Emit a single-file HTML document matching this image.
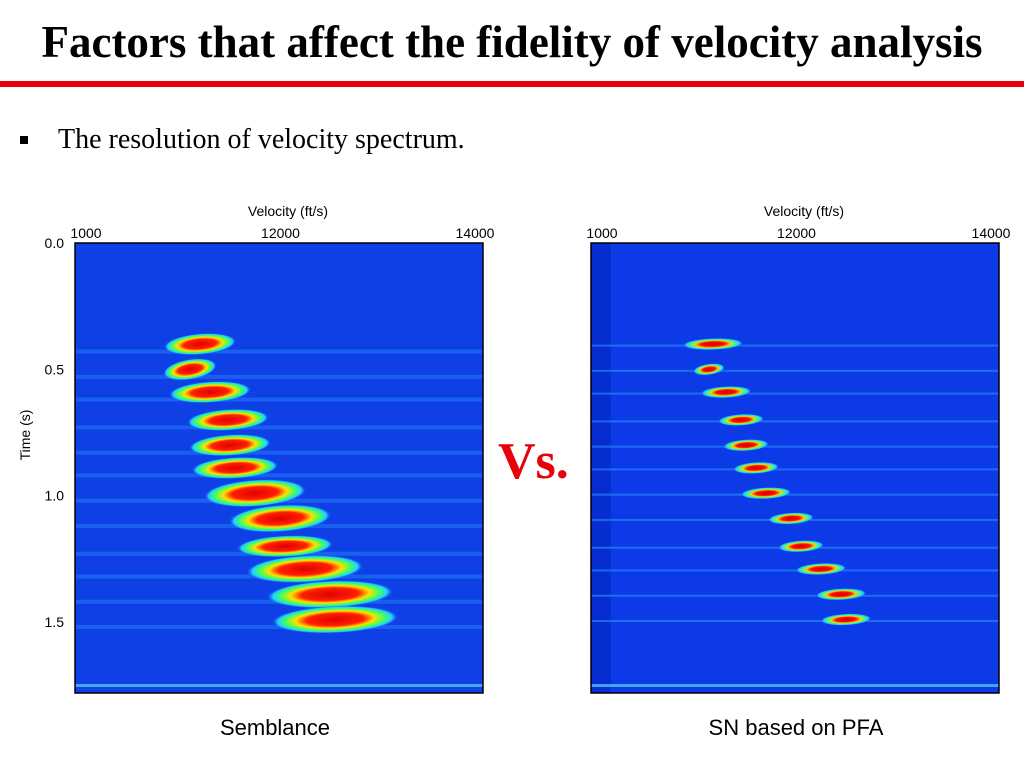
<!DOCTYPE html>
<html><head><meta charset="utf-8"><style>
body{margin:0;width:1024px;height:768px;background:#fff;overflow:hidden;position:relative;font-family:"Liberation Sans",sans-serif}
.t{position:absolute;white-space:nowrap}
</style></head><body>
<div class="t" style="left:0;width:1024px;top:16px;text-align:center;font:bold 45px 'Liberation Serif',serif;color:#000">Factors that affect the fidelity of velocity analysis</div>
<div style="position:absolute;left:0;top:81px;width:1024px;height:6px;background:#e8000b"></div>
<div style="position:absolute;left:20px;top:136px;width:8px;height:8px;background:#000"></div>
<div class="t" style="left:58px;top:124px;font:28px 'Liberation Serif',serif">The resolution of velocity spectrum.</div>
<div class="t" style="left:498px;top:432px;font:bold 52px 'Liberation Serif',serif;color:#e8000b">Vs.</div>
<div class="t" style="left:175px;width:200px;text-align:center;top:715px;font:22px 'Liberation Sans',sans-serif">Semblance</div>
<div class="t" style="left:676px;width:240px;text-align:center;top:715px;font:22px 'Liberation Sans',sans-serif">SN based on PFA</div>
<svg id="chart" width="1024" height="768" style="position:absolute;left:0;top:0"></svg>
<script>
const leftTimes=[0.40,0.50,0.59,0.70,0.80,0.89,0.99,1.09,1.20,1.29,1.39,1.49];
const leftVel=[11172,11069,11275,11460,11481,11532,11738,11995,12046,12252,12509,12560];
const leftWidth=[70,50,80,80,80,85,100,100,95,115,125,125];
const rightTimes=[0.40,0.50,0.59,0.70,0.80,0.89,0.99,1.09,1.20,1.29,1.39,1.49];
const rightVel=[11141,11100,11275,11429,11481,11584,11686,11943,12046,12252,12458,12509];
const rightWidth=[60,30,50,45,45,45,50,45,45,50,50,50];
const xTicks=["1000","12000","14000"];
const xTickVals=[10000,12000,14000];
const yTicks=["0.0","0.5","1.0","1.5"];
const yTickVals=[0,0.5,1.0,1.5];
const NS="http://www.w3.org/2000/svg";
const svg=document.getElementById('chart');
function mk(tag,attrs,parent){const e=document.createElementNS(NS,tag);for(const k in attrs)e.setAttribute(k,attrs[k]);(parent||svg).appendChild(e);return e;}
const defs=mk('defs',{});
const rg=mk('radialGradient',{id:'blob'},defs);
[[0,'#e00000'],[0.45,'#ff2000'],[0.62,'#ffe000'],[0.78,'#40ff60'],[0.9,'#20d0ff'],[1,'#1040e8',0]].forEach(s=>{const st=mk('stop',{offset:s[0],'stop-color':s[1]},rg);if(s.length>2)st.setAttribute('stop-opacity',0);});
const rg2=mk('radialGradient',{id:'blob2'},defs);
[[0,'#d00000'],[0.4,'#ff1000'],[0.58,'#ffd000'],[0.72,'#40ff80'],[0.88,'#30c0ff'],[1,'#1040e8',0]].forEach(s=>{const st=mk('stop',{offset:s[0],'stop-color':s[1]},rg2);if(s.length>2)st.setAttribute('stop-opacity',0);});
function panel(x0,name,times,vels,widths,thin){
  const x1=x0+408,y0=243,y1=693;
  const xs=v=>x0+11+(v-10000)/2000*194.5;
  const ys=t=>y0+t*252.7;
  const g=mk('g',{});
  
  
  const bg=mk('rect',{x:x0,y:y0,width:408,height:450,fill:thin?'#0c3ae6':'#0f40e6'},g);
  
  if(thin){mk('rect',{x:x0,y:y0,width:20,height:450,fill:'#0020b8',opacity:0.5},g);}
  times.forEach((t,i)=>{
    const yy=ys(t)+(thin?2:7);
    const s=mk('rect',{x:x0,y:yy-1.5,width:408,height:thin?2:4,fill:'#2a90ff',opacity:thin?0.6:0.4},g);
    
  });
  mk('rect',{x:x0,y:y0+441,width:408,height:3,fill:'#60d0ff',opacity:0.7},g);
  times.forEach((t,i)=>{
    const cx=xs(vels[i]),cy=ys(t),w=widths[i],h=thin?12:(w>95?28:22);
    const gg=mk('g',{transform:`translate(${cx},${cy}) skewX(-40)`},g);
    const e=mk('ellipse',{cx:0,cy:0,rx:w/2,ry:h/2,fill:thin?'url(#blob2)':'url(#blob)'},gg);
    
    
  });
  mk('rect',{x:x0,y:y0,width:408,height:450,fill:'none',stroke:'#000','stroke-width':1.5},g);
  const lab=mk('text',{x:x0+213,y:216,'font-size':14,'text-anchor':'middle','font-family':'Liberation Sans, sans-serif'},g);
  lab.textContent='Velocity (ft/s)';
  
  xTicks.forEach((l,i)=>{const tx=mk('text',{x:xs(xTickVals[i]),y:238,'font-size':14,'text-anchor':'middle','font-family':'Liberation Sans, sans-serif'},g);tx.textContent=l;
    });
  return ys;
}
const ys=panel(75,'semblance-panel',leftTimes,leftVel,leftWidth,false);
panel(591,'sn-pfa-panel',rightTimes,rightVel,rightWidth,true);
yTicks.forEach((l,i)=>{const tx=mk('text',{x:64,y:ys(yTickVals[i])+5,'font-size':14,'text-anchor':'end','font-family':'Liberation Sans, sans-serif'});tx.textContent=l;
  });
const yt=mk('text',{x:0,y:0,transform:'translate(30,435) rotate(-90)','font-size':14,'text-anchor':'middle','font-family':'Liberation Sans, sans-serif'});
yt.textContent='Time (s)';

</script>
</body></html>
